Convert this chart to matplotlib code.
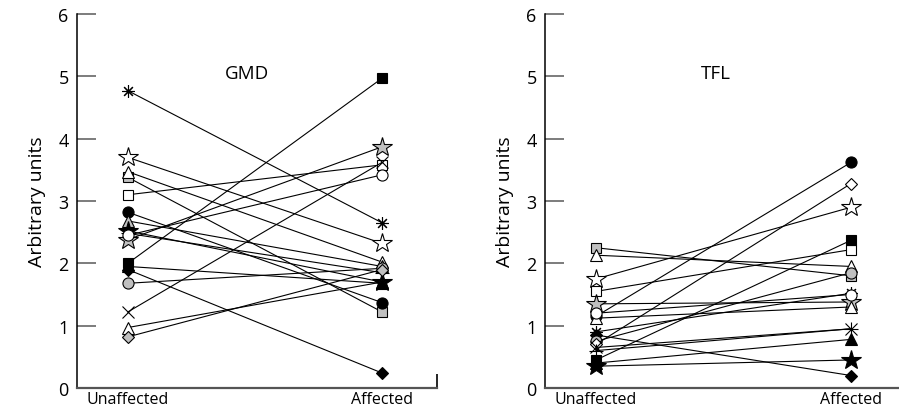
import matplotlib
matplotlib.use("Agg")
import matplotlib.pyplot as plt

plt.rcParams['font.family'] = ['Open Sans', 'DejaVu Sans']

groups = ["Unaffected", "Affected"]
yticks = [0, 1, 2, 3, 4, 5, 6]

# GMD: unaffected -> affected, one marker style per subject
gmd_unaff = [4.77, 3.70, 3.38, 3.47, 3.10, 2.82, 2.68, 2.52, 2.48, 2.38, 2.45, 2.00, 1.90, 1.68, 1.22, 0.97, 0.82, 1.95]
gmd_aff = [2.65, 2.32, 1.22, 2.02, 3.58, 1.37, 1.95, 1.70, 1.85, 3.87, 3.42, 4.97, 0.24, 1.92, 3.62, 1.70, 1.90, 1.68]
gmd_mark = ["ast", "ostar", "gsq", "otri", "osq", "fcirc", "gtri", "fstar", "plus", "gstar", "ocirc", "fsq", "fdia", "gcirc", "x", "otri", "gdia", "ftri"]

# TFL
tfl_unaff = [2.25, 2.13, 1.75, 1.55, 1.35, 1.15, 1.12, 0.90, 0.85, 0.75, 0.70, 0.65, 0.45, 0.40, 0.35, 0.60, 1.20]
tfl_aff = [1.80, 1.95, 2.90, 2.22, 1.38, 3.62, 1.30, 1.52, 0.20, 1.85, 3.28, 0.95, 2.37, 0.78, 0.45, 0.95, 1.50]
tfl_mark = ["gsq", "otri", "ostar", "osq", "gstar", "fcirc", "otri", "ast", "fdia", "gcirc", "odia", "x", "fsq", "ftri", "fstar", "plus", "ocirc"]

gray = "#c0c0c0"
styles = {
    "ast": dict(marker=(8, 2, 0), ms=9, mfc="k", mec="k"),
    "ostar": dict(marker="*", ms=15, mfc="white", mec="k"),
    "gstar": dict(marker="*", ms=15, mfc=gray, mec="k"),
    "fstar": dict(marker="*", ms=15, mfc="k", mec="k"),
    "osq": dict(marker="s", ms=7, mfc="white", mec="k"),
    "gsq": dict(marker="s", ms=7, mfc=gray, mec="k"),
    "fsq": dict(marker="s", ms=7, mfc="k", mec="k"),
    "ocirc": dict(marker="o", ms=8, mfc="white", mec="k"),
    "gcirc": dict(marker="o", ms=8, mfc=gray, mec="k"),
    "fcirc": dict(marker="o", ms=8, mfc="k", mec="k"),
    "otri": dict(marker="^", ms=8, mfc="white", mec="k"),
    "gtri": dict(marker="^", ms=8, mfc=gray, mec="k"),
    "ftri": dict(marker="^", ms=8, mfc="k", mec="k"),
    "odia": dict(marker="D", ms=6, mfc="white", mec="k"),
    "gdia": dict(marker="D", ms=6, mfc=gray, mec="k"),
    "fdia": dict(marker="D", ms=6, mfc="k", mec="k"),
    "x": dict(marker="x", ms=8, mfc="k", mec="k"),
    "plus": dict(marker="+", ms=10, mfc="k", mec="k"),
}

fig = plt.figure(figsize=(8.99, 4.14), dpi=100)
ax1 = fig.add_axes([77 / 899, 1 - 389 / 414, 360 / 899, 374 / 414])
ax2 = fig.add_axes([545 / 899, 1 - 389 / 414, 354 / 899, 374 / 414])


def panel(ax, unaff, aff, marks, title, xmax):
    for u, a, m in zip(unaff, aff, marks):
        ax.plot([0, 1], [u, a], color="k", lw=0.8, mew=0.8, zorder=2, **styles[m])
    ax.set_xlim(-0.2, xmax)
    ax.set_ylim(0, 6)
    ax.set_yticks(yticks)
    ax.set_xticks([0, 1])
    ax.set_xticklabels(groups, fontsize=11.5)
    ax.tick_params(axis="x", length=0, pad=2)
    ax.tick_params(axis="y", direction="in", length=14, width=1.2,
                   color="#666666", labelsize=13, pad=6)
    for s in ["top", "right"]:
        ax.spines[s].set_visible(False)
    ax.spines["left"].set_linewidth(1.1)
    ax.spines["bottom"].set_color("#555555")
    ax.spines["bottom"].set_linewidth(1.6)
    ax.set_ylabel("Arbitrary units", fontsize=14, labelpad=9)
    ax.text(0.47, 5.05, title, ha="center", va="center", fontsize=13.5)


panel(ax1, gmd_unaff, gmd_aff, gmd_mark, "GMD", 1.216)
panel(ax2, tfl_unaff, tfl_aff, tfl_mark, "TFL", 1.188)

# small end mark on the right of the first x-axis
ax1.set_xticks([1.216], minor=True)
ax1.tick_params(axis="x", which="minor", direction="in", length=10, width=1.2, color="k")

fig.savefig("out.png", dpi=100)
